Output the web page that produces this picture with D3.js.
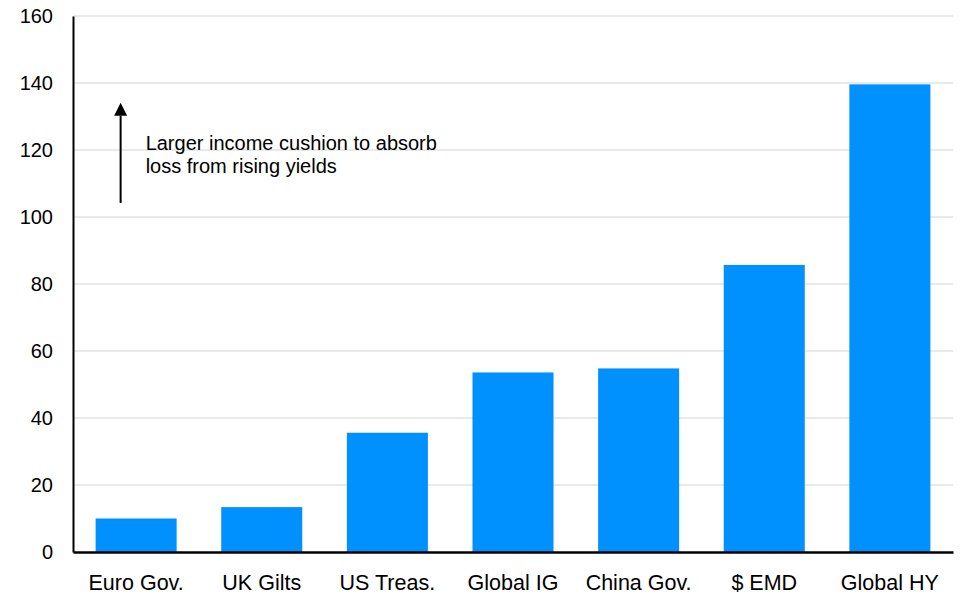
<!DOCTYPE html>
<html>
<head>
<meta charset="utf-8">
<script src="https://cdn.jsdelivr.net/npm/d3@7"></script>
<style>
  html, body { margin: 0; padding: 0; background: #fff; }
  svg { display: block; font-family: "Liberation Sans", Arial, sans-serif; }
</style>
</head>
<body>
<svg id="chart" width="960" height="595"></svg>
<script>
// Income cushion by bond market
const categories = ["Euro Gov.", "UK Gilts", "US Treas.", "Global IG", "China Gov.", "$ EMD", "Global HY"];
const values = [10, 13.4, 35.6, 53.6, 54.8, 85.7, 139.6];
const yTicks = [0, 20, 40, 60, 80, 100, 120, 140, 160];
const noteLines = ["Larger income cushion to absorb", "loss from rising yields"];

const svg = d3.select("#chart");
const margin = { top: 16, right: 7, bottom: 43, left: 73 };
const width = 960 - margin.left - margin.right;
const height = 595 - margin.top - margin.bottom;

const g = svg.append("g").attr("transform", `translate(${margin.left},${margin.top})`);

const x = d3.scaleBand().domain(categories).range([0, width]).paddingInner(0.355).paddingOuter(0.18);
const y = d3.scaleLinear().domain([0, 160]).range([height, 0]);

// horizontal gridlines
g.append("g")
  .selectAll("line")
  .data(yTicks.filter(d => d > 0))
  .join("line")
  .attr("x1", 0).attr("x2", width)
  .attr("y1", d => y(d)).attr("y2", d => y(d))
  .attr("stroke", "#d4d4d4").attr("stroke-width", 1);

// bars
g.append("g")
  .selectAll("rect")
  .data(categories.map((c, i) => ({ c, v: values[i] })))
  .join("rect")
  .attr("x", d => x(d.c))
  .attr("width", x.bandwidth())
  .attr("y", d => y(d.v))
  .attr("height", d => y(0) - y(d.v))
  .attr("fill", "#0091FF");

// y axis
const yAxis = g.append("g")
  .call(d3.axisLeft(y).tickValues(yTicks).tickSize(0).tickPadding(20));
yAxis.select(".domain").attr("stroke", "#000").attr("stroke-width", 2);
yAxis.selectAll("text").attr("font-size", 20).attr("fill", "#000")
  .attr("font-family", "Liberation Sans, Arial, sans-serif");

// x axis
const xAxis = g.append("g")
  .attr("transform", `translate(0,${height})`)
  .call(d3.axisBottom(x).tickSize(0));
xAxis.select(".domain").attr("stroke", "#000").attr("stroke-width", 2.5);
xAxis.selectAll("text")
  .attr("font-size", 21.5).attr("fill", "#000")
  .attr("font-family", "Liberation Sans, Arial, sans-serif")
  .attr("dy", null)
  .attr("y", 38);

// annotation arrow
const arrowX = x("Euro Gov.") + x.bandwidth() / 2 - 15.5;
const arrowTip = y(134.1);
const arrowHeadBase = y(130.2);
g.append("line")
  .attr("x1", arrowX).attr("x2", arrowX)
  .attr("y1", y(104.2)).attr("y2", arrowHeadBase)
  .attr("stroke", "#000").attr("stroke-width", 2);
g.append("path")
  .attr("d", `M${arrowX - 6.5},${arrowHeadBase} L${arrowX},${arrowTip} L${arrowX + 6.5},${arrowHeadBase} Z`)
  .attr("fill", "#000");

g.append("text")
  .attr("x", arrowX + 25)
  .attr("y", y(120))
  .attr("font-size", 20)
  .attr("fill", "#000")
  .selectAll("tspan")
  .data(noteLines)
  .join("tspan")
  .attr("x", arrowX + 25)
  .attr("dy", (d, i) => i === 0 ? 0 : 23)
  .text(d => d);
</script>
</body>
</html>
